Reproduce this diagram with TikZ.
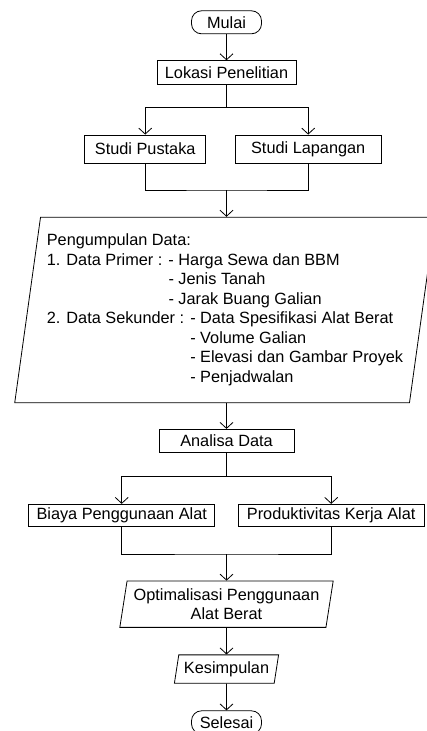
\documentclass[tikz,border=0pt]{standalone}
\usepackage{fontspec}
\setmainfont{Liberation Sans}
\usetikzlibrary{arrows.meta,shapes.geometric}

\tikzset{
  terminal/.style={draw, rectangle, rounded corners=10pt, minimum width=70pt, minimum height=23pt, inner sep=1pt},
  proses/.style={draw, rectangle, inner sep=2pt},
  ionode/.style={draw, trapezium, trapezium stretches=true, inner sep=2pt},
}

\begin{document}
\begin{tikzpicture}[x=1pt, y=-1pt, >={Straight Barb[length=6pt,width=13pt]}, line width=0.8pt,
  font=\fontsize{16.3}{19.5}\selectfont]

\useasboundingbox (0,0) rectangle (427,731);
\clip (0,0) rectangle (427,731);

% Start
\node[terminal] (mulai) at (226.5,22.3) {Mulai};
\node[proses, minimum width=139pt, minimum height=23.6pt] (lokasi) at (226.5,72.5) {Lokasi Penelitian};

% Studi
\node[proses, minimum width=121pt, minimum height=28pt] (pustaka) at (145.2,149) {Studi Pustaka};
\node[proses, minimum width=145.7pt, minimum height=28pt] (lapangan) at (308.2,149) {Studi Lapangan};

% Data collection
\node[ionode, align=left, minimum width=422pt, minimum height=185.6pt,
  trapezium left angle=80.8, trapezium right angle=99.2] (data) at (225,310)
  {Pengumpulan Data:\\
   1. Data Primer : - Harga Sewa dan BBM\\
   \phantom{1. Data Primer : }- Jenis Tanah\\
   \phantom{1. Data Primer : }- Jarak Buang Galian\\
   2. Data Sekunder : - Data Spesifikasi Alat Berat\\
   \phantom{2. Data Sekunder : }- Volume Galian\\
   \phantom{2. Data Sekunder : }- Elevasi dan Gambar Proyek\\
   \phantom{2. Data Sekunder : }- Penjadwalan};

% Analysis
\node[proses, minimum width=135pt, minimum height=23.4pt] (analisa) at (226.5,441) {Analisa Data};
\node[proses, minimum width=186pt, minimum height=22.4pt] (biaya) at (121.7,515.5) {Biaya Penggunaan Alat};
\node[proses, minimum width=186.3pt, minimum height=22.4pt] (produktivitas) at (331.2,515.5) {Produktivitas Kerja Alat};

% Result
\node[ionode, align=center, minimum width=214pt, minimum height=46.3pt,
  trapezium left angle=79, trapezium right angle=101] (optimal) at (226.5,604.2)
  {Optimalisasi Penggunaan\\Alat Berat};
\node[ionode, minimum width=105pt, minimum height=28.3pt,
  trapezium left angle=78, trapezium right angle=102] (kesimpulan) at (226.5,669) {Kesimpulan};
\node[terminal] (selesai) at (226.5,722.3) {Selesai};

% Branch points
\coordinate (cabang1) at (226.5,107.3);
\coordinate (gabung1) at (226.5,190);
\coordinate (cabang2) at (226.5,476);
\coordinate (gabung2) at (226.5,554);

% Connectors
\draw[->] (mulai) -- (lokasi);
\draw (lokasi) -- (cabang1);
\draw[->] (cabang1) -| (pustaka);
\draw[->] (cabang1) -| (lapangan);
\draw (pustaka) |- (gabung1) -| (lapangan);
\draw[->] (gabung1) -- (gabung1 |- data.north);
\draw[->] (analisa |- data.south) -- (analisa);
\draw (analisa) -- (cabang2);
\draw[->] (cabang2) -| (biaya);
\draw[->] (cabang2) -| (produktivitas);
\draw (biaya) |- (gabung2) -| (produktivitas);
\draw[->] (gabung2) -- (optimal);
\draw[->] (optimal) -- (kesimpulan);
\draw[->] (kesimpulan) -- (selesai);

\end{tikzpicture}
\end{document}
